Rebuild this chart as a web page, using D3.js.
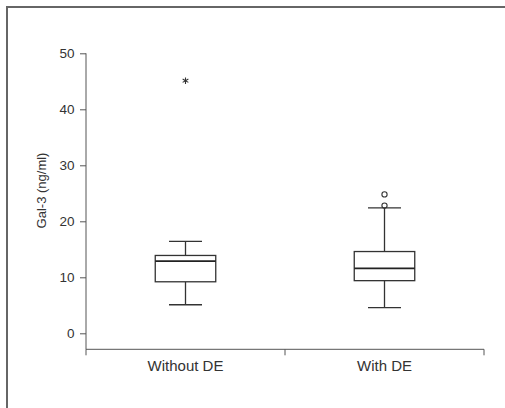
<!DOCTYPE html>
<html><head><meta charset="utf-8">
<script src="https://cdn.jsdelivr.net/npm/d3@7"></script>
<style>body{margin:0;background:#fff;}svg{display:block;font-family:"Liberation Sans",Arial,sans-serif;}</style>
</head><body>
<script>
const categories = ["Without DE", "With DE"];
const whiskerLow = [5.1, 4.6];
const q1 = [9.2, 9.4];
const median = [12.9, 11.6];
const q3 = [13.9, 14.6];
const whiskerHigh = [16.4, 22.4];
const extremes = [[45.1], []];        // asterisk
const outliers = [[], [22.8, 24.8]];  // circles
const yTicks = [0, 10, 20, 30, 40, 50];

(function () {
const W = 505, H = 408;
const svg = d3.select("body").append("svg").attr("width", W).attr("height", H);
svg.append("rect").attr("x", 7).attr("y", 7).attr("width", 520).attr("height", 420)
  .attr("fill", "none").attr("stroke", "#666").attr("stroke-width", 2);

const mLeft = 86, mRight = 484, mTop = 53.3, zeroY = 333.3;
const y = d3.scaleLinear().domain([0, 50]).range([zeroY, mTop]);
const yMin = y.invert(349.3);
const x = d3.scaleBand().domain(categories).range([mLeft, mRight]);

const axisCol = "#555", textCol = "#333";
const ya = svg.append("g").attr("transform", `translate(${mLeft},0)`)
  .call(d3.axisLeft(y).tickValues(yTicks).tickSize(6).tickPadding(5.5));
ya.select(".domain").remove();
ya.append("line").attr("x1", 0).attr("x2", 0).attr("y1", y(50)).attr("y2", y(yMin)).attr("stroke", axisCol);
ya.selectAll(".tick line").attr("stroke", axisCol);
ya.selectAll(".tick text").attr("fill", textCol).style("font-size", "13.5px").style("font-family", "Liberation Sans, Arial, sans-serif");

const xa = svg.append("g").attr("transform", `translate(0,${y(yMin)})`);
xa.append("line").attr("x1", mLeft).attr("x2", mRight).attr("stroke", axisCol);
const edges = [mLeft].concat(categories.map(c => x(c) + x.bandwidth()));
xa.selectAll(".edge").data(edges).join("line").attr("x1", d => d).attr("x2", d => d)
  .attr("y1", 0).attr("y2", 6).attr("stroke", axisCol);
xa.selectAll(".lab").data(categories).join("text")
  .attr("x", d => x(d) + x.bandwidth() / 2).attr("y", 21.5)
  .attr("text-anchor", "middle").attr("fill", textCol).style("font-size", "15px").text(d => d);

svg.append("text").attr("transform", `translate(45.5,190.5) rotate(-90)`)
  .attr("text-anchor", "middle").attr("fill", textCol).style("font-size", "13px").text("Gal-3 (ng/ml)");

const boxW = 60.5, capW = 33;
const g = svg.append("g");
categories.forEach((c, i) => {
  const cx = x(c) + x.bandwidth() / 2;
  const col = "#333";
  g.append("line").attr("x1", cx).attr("x2", cx).attr("y1", y(whiskerHigh[i])).attr("y2", y(q3[i])).attr("stroke", col).attr("stroke-width", 1.3);
  g.append("line").attr("x1", cx).attr("x2", cx).attr("y1", y(q1[i])).attr("y2", y(whiskerLow[i])).attr("stroke", col).attr("stroke-width", 1.3);
  g.append("line").attr("x1", cx - capW/2).attr("x2", cx + capW/2).attr("y1", y(whiskerHigh[i])).attr("y2", y(whiskerHigh[i])).attr("stroke", col).attr("stroke-width", 1.3);
  g.append("line").attr("x1", cx - capW/2).attr("x2", cx + capW/2).attr("y1", y(whiskerLow[i])).attr("y2", y(whiskerLow[i])).attr("stroke", col).attr("stroke-width", 1.3);
  g.append("rect").attr("x", cx - boxW/2).attr("width", boxW).attr("y", y(q3[i])).attr("height", y(q1[i]) - y(q3[i]))
    .attr("fill", "#fff").attr("stroke", col).attr("stroke-width", 1.3);
  g.append("line").attr("x1", cx - boxW/2).attr("x2", cx + boxW/2).attr("y1", y(median[i])).attr("y2", y(median[i])).attr("stroke", "#222").attr("stroke-width", 1.8);
  outliers[i].forEach(v => g.append("circle").attr("cx", cx).attr("cy", y(v)).attr("r", 2.6).attr("fill", "none").attr("stroke", col).attr("stroke-width", 1.1));
  extremes[i].forEach(v => g.append("path").attr("transform", `translate(${cx},${y(v)})`)
    .attr("d", d3.symbol(d3.symbolAsterisk, 30)()).attr("fill", "none").attr("stroke", col).attr("stroke-width", 1.1));
});
})();
</script>
</body></html>
